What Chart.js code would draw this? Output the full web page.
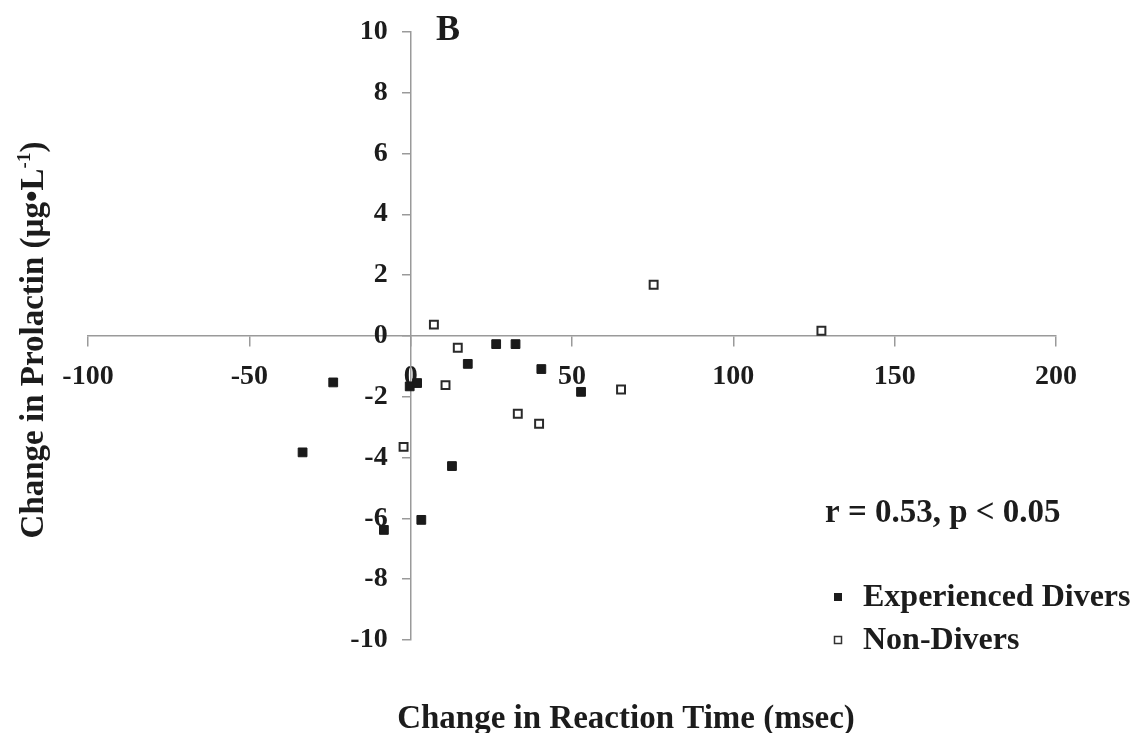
<!DOCTYPE html>
<html>
<head>
<meta charset="utf-8">
<title>Change in Prolactin vs Reaction Time</title>
<script src="https://cdn.jsdelivr.net/npm/chart.js@4/dist/chart.umd.min.js"></script>
<style>
    html, body { margin: 0; padding: 0; background: #ffffff; }
    #wrap { width: 1134px; height: 733px; position: relative; }
</style>
</head>
<body>
<div id="wrap"><canvas id="scatterChart" width="1134" height="733"></canvas></div>
<script>
// Experienced divers (filled squares)
const expDiversX = [-33.5, -24.0, -8.3, -0.3, 2.0, 3.3, 12.8, 17.7, 26.5, 32.5, 40.5, 52.8];
const expDiversY = [-3.83, -1.53, -6.38, -1.66, -1.55, -6.05, -4.28, -0.92, -0.27, -0.27, -1.09, -1.84];

// Non-divers (open squares)
const nonDiversX = [-2.2, 7.2, 10.8, 14.6, 33.2, 39.8, 65.2, 75.3, 127.3];
const nonDiversY = [-3.65, 0.37, -1.62, -0.39, -2.56, -2.89, -1.76, 1.68, 0.17];

const seriesLabels = ['Experienced Divers', 'Non-Divers'];
const xTickValues = [-100, -50, 0, 50, 100, 150, 200];
const yTickValues = [-10, -8, -6, -4, -2, 0, 2, 4, 6, 8, 10];

const SERIF = '"Liberation Serif", "Times New Roman", Times, serif';
const INK = '#1c1c1c';
const AXIS_GREY = '#9a9a9a';
const Y_LABEL_GAP = 23; // distance from y axis line to right edge of its labels

/**
 * Zip two value arrays into scatter points
 */
function toPoints(xs, ys) {
    return xs.map((x, i) => ({ x: x, y: ys[i] }));
}

/**
 * A y axis placed at x = 0 puts its labels right on the line,
 * so push them left like an ordinary left axis
 */
function shiftYLabels(scale) {
    if (scale._labelsShifted) return;
    const proto = Object.getPrototypeOf(scale);
    scale._computeLabelItems = function (chartArea) {
        const items = proto._computeLabelItems.call(this, chartArea);
        items.forEach(item => {
            item.options.translation[0] -= Y_LABEL_GAP;
        });
        return items;
    };
    scale._labelsShifted = true;
}

/**
 * Titles, panel letter, statistics text and legend
 */
const annotationPlugin = {
    id: 'annotations',
    afterDraw(chart) {
        const ctx = chart.ctx;
        ctx.save();
        ctx.fillStyle = INK;

        // panel letter
        ctx.font = `bold 36px ${SERIF}`;
        ctx.textAlign = 'left';
        ctx.textBaseline = 'alphabetic';
        ctx.fillText('B', 436, 40);

        // x axis title
        ctx.font = `bold 33px ${SERIF}`;
        ctx.textAlign = 'center';
        ctx.fillText('Change in Reaction Time (msec)', 626, 728);

        // y axis title with superscript
        ctx.save();
        ctx.translate(43, 340);
        ctx.rotate(-Math.PI / 2);
        const mainText = 'Change in Prolactin (\u00b5g\u2022L';
        const supText = '-1';
        const endText = ')';
        ctx.font = `bold 33px ${SERIF}`;
        const wMain = ctx.measureText(mainText).width;
        const wEnd = ctx.measureText(endText).width;
        ctx.font = `bold 19px ${SERIF}`;
        const wSup = ctx.measureText(supText).width;
        let start = -(wMain + wSup + wEnd) / 2;
        ctx.textAlign = 'left';
        ctx.font = `bold 33px ${SERIF}`;
        ctx.fillText(mainText, start, 0);
        ctx.font = `bold 19px ${SERIF}`;
        ctx.fillText(supText, start + wMain, -13);
        ctx.font = `bold 33px ${SERIF}`;
        ctx.fillText(endText, start + wMain + wSup, 0);
        ctx.restore();

        // correlation text
        ctx.font = `bold 33px ${SERIF}`;
        ctx.textAlign = 'left';
        ctx.fillText('r = 0.53, p < 0.05', 825, 522);

        // legend
        const legendRows = [
            { label: seriesLabels[0], y: 597, filled: true },
            { label: seriesLabels[1], y: 640, filled: false }
        ];
        legendRows.forEach(row => {
            if (row.filled) {
                ctx.fillStyle = INK;
                ctx.fillRect(834, row.y - 4, 8, 8);
            } else {
                ctx.fillStyle = '#ffffff';
                ctx.fillRect(834, row.y - 4, 8, 8);
                ctx.strokeStyle = '#333333';
                ctx.lineWidth = 1.5;
                ctx.strokeRect(834.5, row.y - 3.5, 7, 7);
            }
            ctx.fillStyle = INK;
            ctx.font = `bold 32px ${SERIF}`;
            ctx.textBaseline = 'middle';
            ctx.fillText(row.label, 863, row.y + 1);
        });
        ctx.restore();
    }
};

/**
 * Build the scatter chart
 */
function renderChart() {
    const ctx = document.getElementById('scatterChart').getContext('2d');

    new Chart(ctx, {
        type: 'scatter',
        data: {
            datasets: [
                {
                    label: seriesLabels[0],
                    data: toPoints(expDiversX, expDiversY),
                    pointStyle: 'rect',
                    pointRadius: 6.2,
                    backgroundColor: '#1a1a1a',
                    borderColor: '#1a1a1a',
                    borderWidth: 1
                },
                {
                    label: seriesLabels[1],
                    data: toPoints(nonDiversX, nonDiversY),
                    pointStyle: 'rect',
                    pointRadius: 5.6,
                    backgroundColor: '#ffffff',
                    borderColor: '#2a2a2a',
                    borderWidth: 2
                }
            ]
        },
        options: {
            responsive: false,
            animation: false,
            layout: {
                padding: { left: 88, right: 78, top: 31, bottom: 93 }
            },
            plugins: {
                legend: { display: false },
                tooltip: { enabled: false }
            },
            scales: {
                x: {
                    type: 'linear',
                    position: { y: 0 },
                    min: xTickValues[0],
                    max: xTickValues[xTickValues.length - 1],
                    afterBuildTicks(scale) {
                        scale.ticks = xTickValues.map(v => ({ value: v }));
                    },
                    afterFit(scale) {
                        scale.height = 0;
                    },
                    grid: {
                        drawOnChartArea: false,
                        drawTicks: true,
                        tickLength: 10,
                        color: AXIS_GREY,
                        lineWidth: 1.5
                    },
                    border: { color: AXIS_GREY, width: 1.5 },
                    ticks: {
                        padding: 14,
                        color: INK,
                        maxRotation: 0,
                        font: { family: SERIF, size: 28, weight: 'bold' }
                    }
                },
                y: {
                    type: 'linear',
                    position: { x: 0 },
                    min: yTickValues[0],
                    max: yTickValues[yTickValues.length - 1],
                    afterBuildTicks(scale) {
                        scale.ticks = yTickValues.map(v => ({ value: v }));
                    },
                    afterFit(scale) {
                        scale.width = 0;
                        shiftYLabels(scale);
                    },
                    grid: {
                        drawOnChartArea: false,
                        drawTicks: true,
                        tickLength: 8,
                        color: AXIS_GREY,
                        lineWidth: 1.5
                    },
                    border: { color: AXIS_GREY, width: 1.5 },
                    ticks: {
                        padding: 15,
                        color: INK,
                        font: { family: SERIF, size: 28, weight: 'bold' }
                    }
                }
            }
        },
        plugins: [annotationPlugin]
    });
}

renderChart();
</script>
</body>
</html>
